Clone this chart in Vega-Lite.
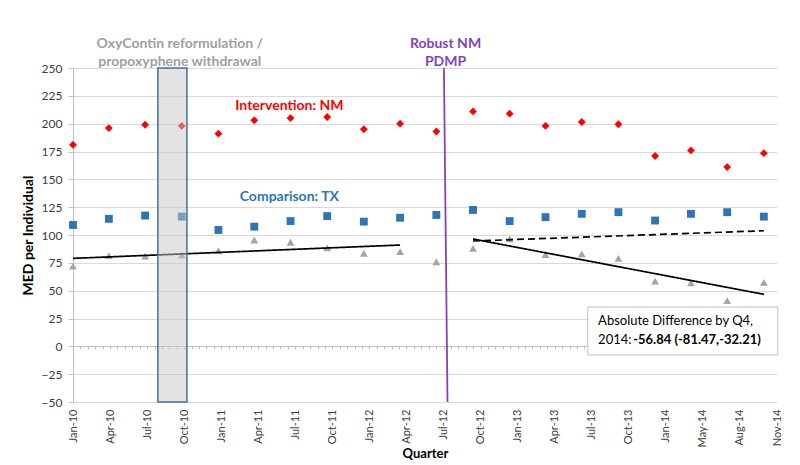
{
  "$schema": "https://vega.github.io/schema/vega-lite/v6.json",
  "width": 704,
  "height": 334,
  "autosize": {"type": "none"},
  "padding": {"left": 73, "top": 68, "right": 23, "bottom": 63},
  "background": "white",
  "config": {"font": "Lato", "view": {"stroke": null}},
  "resolve": {"axis": {"x": "independent"}},
  "encoding": {
    "y": {
      "field": "value", "type": "quantitative",
      "scale": {"domain": [-50, 250], "nice": false, "zero": false},
      "axis": {
        "values": [-50, -25, 0, 25, 50, 75, 100, 125, 150, 175, 200, 225, 250],
        "grid": true,
        "gridColor": "#d9d9d9",
        "domainColor": "#bfbfbf",
        "tickColor": "#bfbfbf",
        "tickSize": 5,
        "labelPadding": 6,
        "labelFontSize": 12,
        "labelColor": "#404040",
        "labelOverlap": false,
        "title": "MED per Individual",
        "titleFontSize": 14,
        "titleFontWeight": "bold",
        "titleColor": "#000000",
        "titlePadding": 6
      }
    }
  },
  "layer": [
    {
      "data": {"values": [
        {"date": "2010-01-01", "series": "Intervention: NM", "value": 181},
        {"date": "2010-04-01", "series": "Intervention: NM", "value": 196},
        {"date": "2010-07-01", "series": "Intervention: NM", "value": 199},
        {"date": "2010-10-01", "series": "Intervention: NM", "value": 198},
        {"date": "2011-01-01", "series": "Intervention: NM", "value": 191},
        {"date": "2011-04-01", "series": "Intervention: NM", "value": 203},
        {"date": "2011-07-01", "series": "Intervention: NM", "value": 205},
        {"date": "2011-10-01", "series": "Intervention: NM", "value": 206},
        {"date": "2012-01-01", "series": "Intervention: NM", "value": 195},
        {"date": "2012-04-01", "series": "Intervention: NM", "value": 200},
        {"date": "2012-07-01", "series": "Intervention: NM", "value": 193},
        {"date": "2012-10-01", "series": "Intervention: NM", "value": 211},
        {"date": "2013-01-01", "series": "Intervention: NM", "value": 209},
        {"date": "2013-04-01", "series": "Intervention: NM", "value": 198},
        {"date": "2013-07-01", "series": "Intervention: NM", "value": 201.5},
        {"date": "2013-10-01", "series": "Intervention: NM", "value": 199.5},
        {"date": "2014-01-01", "series": "Intervention: NM", "value": 171},
        {"date": "2014-04-01", "series": "Intervention: NM", "value": 176},
        {"date": "2014-07-01", "series": "Intervention: NM", "value": 161},
        {"date": "2014-10-01", "series": "Intervention: NM", "value": 173.5},
        {"date": "2010-01-01", "series": "Comparison: TX", "value": 109},
        {"date": "2010-04-01", "series": "Comparison: TX", "value": 114.5},
        {"date": "2010-07-01", "series": "Comparison: TX", "value": 117.5},
        {"date": "2010-10-01", "series": "Comparison: TX", "value": 116.5},
        {"date": "2011-01-01", "series": "Comparison: TX", "value": 104.5},
        {"date": "2011-04-01", "series": "Comparison: TX", "value": 107.5},
        {"date": "2011-07-01", "series": "Comparison: TX", "value": 112.5},
        {"date": "2011-10-01", "series": "Comparison: TX", "value": 117},
        {"date": "2012-01-01", "series": "Comparison: TX", "value": 112},
        {"date": "2012-04-01", "series": "Comparison: TX", "value": 115.5},
        {"date": "2012-07-01", "series": "Comparison: TX", "value": 118},
        {"date": "2012-10-01", "series": "Comparison: TX", "value": 122.5},
        {"date": "2013-01-01", "series": "Comparison: TX", "value": 112.5},
        {"date": "2013-04-01", "series": "Comparison: TX", "value": 116},
        {"date": "2013-07-01", "series": "Comparison: TX", "value": 119},
        {"date": "2013-10-01", "series": "Comparison: TX", "value": 120.5},
        {"date": "2014-01-01", "series": "Comparison: TX", "value": 113},
        {"date": "2014-04-01", "series": "Comparison: TX", "value": 119},
        {"date": "2014-07-01", "series": "Comparison: TX", "value": 120.5},
        {"date": "2014-10-01", "series": "Comparison: TX", "value": 116.5},
        {"date": "2010-01-01", "series": "Difference", "value": 72},
        {"date": "2010-04-01", "series": "Difference", "value": 81.5},
        {"date": "2010-07-01", "series": "Difference", "value": 81},
        {"date": "2010-10-01", "series": "Difference", "value": 82},
        {"date": "2011-01-01", "series": "Difference", "value": 86},
        {"date": "2011-04-01", "series": "Difference", "value": 95.5},
        {"date": "2011-07-01", "series": "Difference", "value": 93.5},
        {"date": "2011-10-01", "series": "Difference", "value": 88.5},
        {"date": "2012-01-01", "series": "Difference", "value": 83.5},
        {"date": "2012-04-01", "series": "Difference", "value": 85},
        {"date": "2012-07-01", "series": "Difference", "value": 76},
        {"date": "2012-10-01", "series": "Difference", "value": 88},
        {"date": "2013-01-01", "series": "Difference", "value": 96.5},
        {"date": "2013-04-01", "series": "Difference", "value": 82.5},
        {"date": "2013-07-01", "series": "Difference", "value": 83},
        {"date": "2013-10-01", "series": "Difference", "value": 79},
        {"date": "2014-01-01", "series": "Difference", "value": 58.5},
        {"date": "2014-04-01", "series": "Difference", "value": 57},
        {"date": "2014-07-01", "series": "Difference", "value": 41},
        {"date": "2014-10-01", "series": "Difference", "value": 57.5}
      ]},
      "mark": {"type": "point", "filled": true, "opacity": 1, "size": 62, "strokeWidth": 0},
      "encoding": {
        "x": {
          "field": "date", "type": "temporal",
          "scale": {"type": "utc", "domain": [1262304000000, 1414972800000]},
          "axis": {
            "values": [1262304000000, 1270339200000, 1278374400000, 1286409600000, 1294444800000, 1302480000000, 1310515200000, 1318550400000, 1326585600000, 1334620800000, 1342656000000, 1350691200000, 1358726400000, 1366761600000, 1374796800000, 1382832000000, 1390867200000, 1398902400000, 1406937600000, 1414972800000],
            "format": "%b-%y",
            "labelAngle": -90,
            "labelPadding": 7,
            "labelFontSize": 11,
            "labelColor": "#404040",
            "labelOverlap": false,
            "grid": false,
            "domain": false,
            "ticks": false,
            "tickSize": 0,
            "title": "Quarter",
            "titleFontSize": 13,
            "titleFontWeight": "bold",
            "titleColor": "#000000",
            "titlePadding": 1
          }
        },
        "color": {
          "field": "series", "type": "nominal",
          "scale": {"domain": ["Intervention: NM", "Comparison: TX", "Difference"], "range": ["#ff0000", "#2e75b6", "#a5a5a5"]},
          "legend": null
        },
        "shape": {
          "field": "series", "type": "nominal",
          "scale": {"domain": ["Intervention: NM", "Comparison: TX", "Difference"], "range": ["diamond", "square", "triangle-up"]},
          "legend": null
        }
      }
    },
    {
      "data": {"values": [
        {"seg": "pre", "date": "2010-01-01", "value": 79},
        {"seg": "pre", "date": "2012-04-01", "value": 91},
        {"seg": "post", "date": "2012-10-01", "value": 96.4},
        {"seg": "post", "date": "2014-10-01", "value": 46.7},
        {"seg": "counterfactual", "date": "2012-10-01", "value": 94.6},
        {"seg": "counterfactual", "date": "2014-10-01", "value": 103.8}
      ]},
      "mark": {"type": "line", "color": "#000000", "strokeWidth": 1.7},
      "encoding": {
        "x": {
          "field": "date", "type": "temporal",
          "axis": {
            "orient": "bottom",
            "offset": -56,
            "labels": false,
            "title": null,
            "grid": false,
            "domain": true,
            "domainColor": "#bfbfbf",
            "ticks": true,
            "tickColor": "#bfbfbf",
            "tickSize": 3,
            "values": [1262304000000, 1263911040000, 1265518080000, 1267125120000, 1268732160000,
              1270339200000, 1271946240000, 1273553280000, 1275160320000, 1276767360000,
              1278374400000, 1279981440000, 1281588480000, 1283195520000, 1284802560000,
              1286409600000, 1288016640000, 1289623680000, 1291230720000, 1292837760000,
              1294444800000, 1296051840000, 1297658880000, 1299265920000, 1300872960000,
              1302480000000, 1304087040000, 1305694080000, 1307301120000, 1308908160000,
              1310515200000, 1312122240000, 1313729280000, 1315336320000, 1316943360000,
              1318550400000, 1320157440000, 1321764480000, 1323371520000, 1324978560000,
              1326585600000, 1328192640000, 1329799680000, 1331406720000, 1333013760000,
              1334620800000, 1336227840000, 1337834880000, 1339441920000, 1341048960000,
              1342656000000, 1344263040000, 1345870080000, 1347477120000, 1349084160000,
              1350691200000, 1352298240000, 1353905280000, 1355512320000, 1357119360000,
              1358726400000, 1360333440000, 1361940480000, 1363547520000, 1365154560000,
              1366761600000, 1368368640000, 1369975680000, 1371582720000, 1373189760000,
              1374796800000, 1376403840000, 1378010880000, 1379617920000, 1381224960000,
              1382832000000, 1384439040000, 1386046080000, 1387653120000, 1389260160000,
              1390867200000, 1392474240000, 1394081280000, 1395688320000, 1397295360000,
              1398902400000, 1400509440000, 1402116480000, 1403723520000, 1405330560000,
              1406937600000, 1408544640000, 1410151680000, 1411758720000, 1413365760000,
              1414972800000]
          }
        },
        "detail": {"field": "seg", "type": "nominal"},
        "strokeDash": {
          "field": "seg", "type": "nominal",
          "scale": {"domain": ["pre", "post", "counterfactual"], "range": [[1, 0], [1, 0], [7, 4]]},
          "legend": null
        }
      }
    },
    {
      "data": {"values": [{"start": "2010-08-02", "end": "2010-10-14", "value": 250, "value2": -50}]},
      "mark": {"type": "rect", "fill": "#c8c8c8", "fillOpacity": 0.5, "stroke": "#41719c", "strokeWidth": 1.5},
      "encoding": {
        "x": {"field": "start", "type": "temporal", "axis": null},
        "x2": {"field": "end"},
        "y2": {"field": "value2"}
      }
    },
    {
      "data": {"values": [{"start": "2012-07-20", "end": "2012-07-29", "value": 250, "value2": -50}]},
      "mark": {"type": "rule", "color": "#7f45bf", "strokeWidth": 1.8},
      "encoding": {
        "x": {"field": "start", "type": "temporal", "axis": null},
        "x2": {"field": "end"},
        "y2": {"field": "value2"}
      }
    },
    {
      "data": {"values": [{"start": "2013-07-16", "end": "2014-11-05", "value": 35.3, "value2": -7.8}]},
      "mark": {"type": "rect", "fill": "#ffffff", "stroke": "#bfbfbf", "strokeWidth": 1},
      "encoding": {
        "x": {"field": "start", "type": "temporal", "axis": null},
        "x2": {"field": "end"},
        "y2": {"field": "value2"}
      }
    },
    {
      "data": {"values": [
        {"date": "2010-09-26", "value": 268, "label": "OxyContin reformulation /"},
        {"date": "2010-09-26", "value": 251.8, "label": "propoxyphene withdrawal"}
      ]},
      "mark": {"type": "text", "align": "center", "baseline": "alphabetic", "fontSize": 14, "fontWeight": "bold", "color": "#a0a0a0"},
      "encoding": {
        "x": {"field": "date", "type": "temporal", "axis": null},
        "text": {"field": "label"}
      }
    },
    {
      "data": {"values": [
        {"date": "2012-07-24", "value": 268, "label": "Robust NM"},
        {"date": "2012-07-24", "value": 251.8, "label": "PDMP"}
      ]},
      "mark": {"type": "text", "align": "center", "baseline": "alphabetic", "fontSize": 14, "fontWeight": "bold", "color": "#7f45bf"},
      "encoding": {
        "x": {"field": "date", "type": "temporal", "axis": null},
        "text": {"field": "label"}
      }
    },
    {
      "data": {"values": [
        {"date": "2011-06-28", "value": 212.2, "label": "Intervention: NM", "series": "Intervention: NM"},
        {"date": "2011-06-28", "value": 130.5, "label": "Comparison: TX", "series": "Comparison: TX"}
      ]},
      "mark": {"type": "text", "align": "center", "baseline": "alphabetic", "fontSize": 14, "fontWeight": "bold"},
      "encoding": {
        "x": {"field": "date", "type": "temporal", "axis": null},
        "text": {"field": "label"},
        "color": {"field": "series", "type": "nominal", "scale": {"domain": ["Intervention: NM", "Comparison: TX", "Difference"], "range": ["#ff0000", "#0070c0", "#a5a5a5"]}, "legend": null}
      }
    },
    {
      "data": {"values": [
        {"date": "2013-08-11", "value": 22.7, "label": "Absolute Difference by Q4,"},
        {"date": "2013-08-11", "value": 5.8, "label": "2014:"}
      ]},
      "mark": {"type": "text", "align": "left", "baseline": "middle", "fontSize": 13, "color": "#000000"},
      "encoding": {
        "x": {"field": "date", "type": "temporal", "axis": null},
        "text": {"field": "label"}
      }
    },
    {
      "data": {"values": [
        {"date": "2013-11-07", "value": 5.8, "label": "-56.84 (-81.47,-32.21)"}
      ]},
      "mark": {"type": "text", "align": "left", "baseline": "middle", "fontSize": 13, "fontWeight": "bold", "color": "#000000"},
      "encoding": {
        "x": {"field": "date", "type": "temporal", "axis": null},
        "text": {"field": "label"}
      }
    }
  ]
}
